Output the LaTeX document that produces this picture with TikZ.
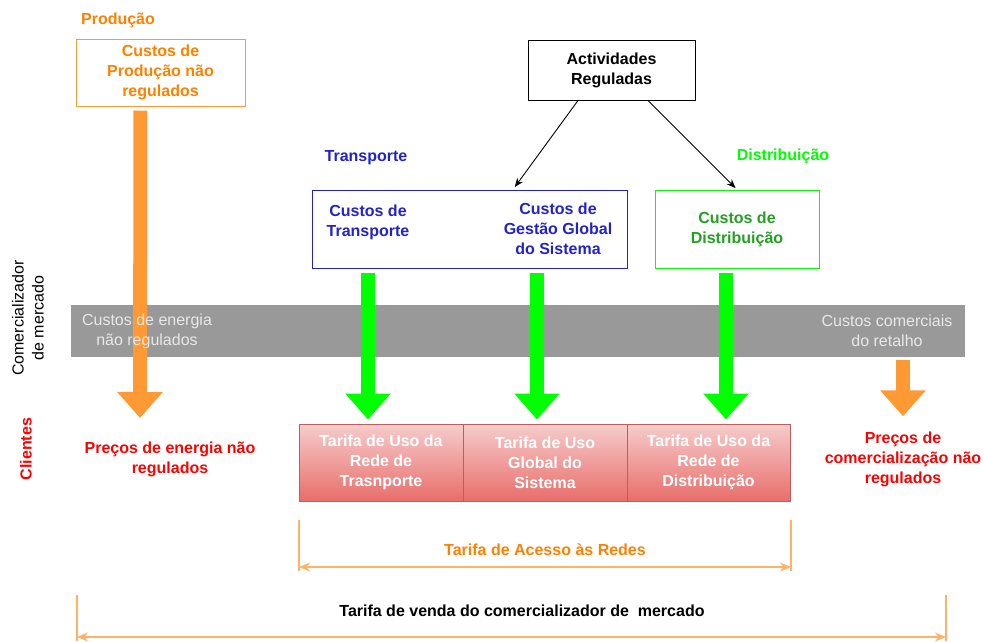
\documentclass[tikz,border=0pt]{standalone}
\usepackage{fontspec}
\setmainfont{Liberation Sans}
\usetikzlibrary{arrows.meta}

\definecolor{prodorange}{RGB}{255,128,0}
\definecolor{arroworange}{RGB}{255,153,51}
\definecolor{bracketorange}{RGB}{255,178,102}
\definecolor{bandgray}{RGB}{153,153,153}
\definecolor{bandtext}{RGB}{232,232,232}
\definecolor{transblue}{RGB}{34,34,204}
\definecolor{distgreen}{RGB}{0,255,0}
\definecolor{distdark}{RGB}{34,160,34}
\definecolor{tarifatop}{RGB}{246,204,204}
\definecolor{tarifabot}{RGB}{232,110,106}
\definecolor{tarifaline}{RGB}{196,90,90}

\begin{document}
\begin{tikzpicture}[x=1pt,y=-1pt,
  every node/.style={font=\fontsize{16}{20}\selectfont, align=center, inner sep=0pt},
  lbl/.style={font=\fontsize{16}{20}\selectfont\bfseries},
  costbox/.style={draw, line width=1pt, font=\fontsize{16}{20}\selectfont\bfseries},
  tarifabox/.style={draw=tarifaline, line width=1pt, top color=tarifatop, bottom color=tarifabot,
    minimum height=77, text=white, font=\fontsize{16}{20}\selectfont\bfseries},
  fatarrow/.style={line width=14pt, -{Triangle[length=26pt,width=44pt]}},
  thinarrow/.style={black, line width=0.9pt, -{Stealth[length=9pt,width=7pt]}},
  spanline/.style={bracketorange, line width=1.2pt},
  spanarrow/.style={bracketorange, line width=1.2pt, {Stealth[length=11pt,width=9pt]}-{Stealth[length=11pt,width=9pt]}}
]
\useasboundingbox (0,0) rectangle (984,641);

% Producao
\node[lbl, text=prodorange] (prodlbl) at (118,20) {Produção};
\node[costbox, draw=arroworange, minimum width=169, minimum height=67, text=prodorange] (prodbox) at (160.5,72.5) {Custos de\\Produção não\\regulados};

% Actividades reguladas
\node[costbox, minimum width=167, minimum height=60] (regact) at (611.5,70) {Actividades\\Reguladas};
\node[lbl, text=transblue] (translbl) at (366,158) {Transporte};
\node[lbl, text=distgreen] (distlbl) at (783,156) {Distribuição};
\node[costbox, draw=transblue, minimum width=315, minimum height=78] (transbox) at (469.5,229) {};
\node[lbl, text=transblue] (custrans) at (368,222) {Custos de\\Transporte};
\node[lbl, text=transblue] (cusgest) at (558,229) {Custos de\\Gestão Global\\do Sistema};
\node[costbox, draw=distgreen, minimum width=164, minimum height=78, text=distdark] (distbox) at (737,229) {Custos de\\Distribuição};

% Comercializador de mercado
\node[fill=bandgray, minimum width=894, minimum height=52] (band) at (518,331) {};
\coordinate (prodtip) at (140,418);
\draw[fatarrow, arroworange, shorten <=4pt] ([xshift=-20]prodbox.south) -- (prodtip);
\node[text=bandtext] (enerlbl) at (147,331) {Custos de energia\\não regulados};
\node[text=bandtext] (comlbl) at (887,331) {Custos comerciais\\do retalho};
\node[rotate=90] (comerc) at (28,318) {Comercializador\\de mercado};

% Clientes
\node[lbl, rotate=90, text=red] (clientes) at (26,449) {Clientes};
\node[lbl, text=red] (precener) at (170,459) {Preços de energia não\\regulados};
\node[lbl, text=red] (precom) at (903,459) {Preços de\\comercialização não\\regulados};
\node[tarifabox, minimum width=164] (tuso1) at (381,462.5) {Tarifa de Uso da\\Rede de\\Trasnporte};
\node[tarifabox, minimum width=164] (tuso2) at (545,462.5) {Tarifa de Uso\\Global do\\Sistema};
\node[tarifabox, minimum width=163] (tuso3) at (708.5,462.5) {Tarifa de Uso da\\Rede de\\Distribuição};

% setas
\draw[fatarrow, arroworange, shorten <=3pt, shorten >=15pt] (precom |- band.south) -- (precom.north);
\draw[fatarrow, distgreen, shorten <=4pt, shorten >=4pt] (custrans |- transbox.south) -- (custrans |- tuso1.north);
\draw[fatarrow, distgreen, shorten <=4pt, shorten >=4pt] ([xshift=-8]tuso2.north |- transbox.south) -- ([xshift=-8]tuso2.north);
\draw[fatarrow, distgreen, shorten <=4pt, shorten >=4pt] ([xshift=-11]distbox.south) -- ([xshift=-11]distbox.south |- tuso3.north);
\draw[thinarrow, shorten >=3pt] ([xshift=-33.5]regact.south) -- ([xshift=43.5]transbox.north);
\draw[thinarrow, shorten >=2pt] ([xshift=36.5]regact.south) -- (distbox.north);

% Tarifa de Acesso
\coordinate (acesL) at (299,520);
\coordinate (acesR) at (791,520);
\coordinate (acesLa) at (299,567);
\coordinate (acesRa) at (791,567);
\draw[spanline] (acesL) -- ++(0,51);
\draw[spanline] (acesR) -- ++(0,51);
\draw[spanarrow] (acesLa) -- (acesRa);
\node[lbl, text=prodorange] (aceslbl) at (545,550) {Tarifa de Acesso às Redes};

% Tarifa de venda
\coordinate (vendaL) at (77,595);
\coordinate (vendaR) at (946,595);
\coordinate (vendaLa) at (77,637);
\coordinate (vendaRa) at (946,637);
\draw[spanline] (vendaL) -- ++(0,46);
\draw[spanline] (vendaR) -- ++(0,46);
\draw[spanarrow] (vendaLa) -- (vendaRa);
\node[lbl] (vendalbl) at (522,611) {Tarifa de venda do comercializador de~~mercado};
\end{tikzpicture}
\end{document}
